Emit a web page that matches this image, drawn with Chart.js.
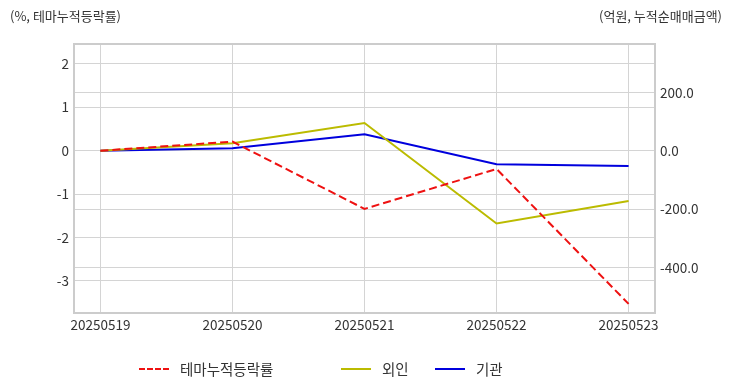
<!DOCTYPE html>
<html>
<head>
<meta charset="utf-8">
<script src="https://cdn.jsdelivr.net/npm/chart.js@4"></script>
<style>
  html, body { margin: 0; padding: 0; background: #fff; }
  #wrap { position: relative; width: 732px; height: 392px; font-family: "Noto Sans CJK KR", "Noto Sans", sans-serif; color: #333; }
  canvas { position: absolute; left: 0; top: 0; }
  .ttl { position: absolute; top: 6px; font-size: 13px; color: #333; }
  #legend { position: absolute; top: 359px; left: 0; width: 732px; height: 20px; font-size: 14.5px; }
  .item { position: absolute; top: 0; height: 20px; line-height: 20px; }
  .swatch { position: absolute; top: 9px; left: 0; width: 30px; height: 0; border-top: 2px solid; }
  .item span { position: absolute; left: 41px; white-space: nowrap; }
</style>
</head>
<body>
<div id="wrap">
  <canvas id="chart" width="732" height="392"></canvas>
  <div class="ttl" style="left:10px">(%, 테마누적등락률)</div>
  <div class="ttl" style="right:10px">(억원, 누적순매매금액)</div>
  <div id="legend"></div>
</div>
<script>
const dates = ['20250519', '20250520', '20250521', '20250522', '20250523'];
const themeRate = [0, 0.21, -1.34, -0.42, -3.53];
const foreign = [0, 26, 95, -249, -172];
const institution = [0, 9, 57, -46, -52];
const leftTicks = [2, 1, 0, -1, -2, -3];
const rightTicks = [200, 0, -200, -400];

const seriesInfo = [
    { label: '테마누적등락률', data: themeRate, color: '#ee1111', dash: [8, 4], axis: 'y', left: 139 },
    { label: '외인', data: foreign, color: '#bbbb00', dash: [], axis: 'y1', left: 341 },
    { label: '기관', data: institution, color: '#0000dd', dash: [], axis: 'y1', left: 435 }
];

const tickFont = { family: '"Noto Sans CJK KR", "Noto Sans", sans-serif', size: 13.5 };
const gridColor = '#d4d4d4';

const boxBorder = {
    id: 'boxBorder',
    afterDraw(chart) {
        const a = chart.chartArea;
        const ctx = chart.ctx;
        ctx.save();
        ctx.strokeStyle = '#cccccc';
        ctx.lineWidth = 2;
        ctx.strokeRect(a.left, a.top, a.right - a.left, a.bottom - a.top);
        ctx.restore();
    }
};

new Chart(document.getElementById('chart'), {
    type: 'line',
    data: {
        datasets: seriesInfo.map(s => ({
            label: s.label,
            data: s.data.map((v, i) => ({ x: i, y: v })),
            borderColor: s.color,
            backgroundColor: s.color,
            borderDash: s.dash,
            borderWidth: 2,
            pointRadius: 0,
            tension: 0,
            yAxisID: s.axis
        }))
    },
    options: {
        responsive: false,
        animation: false,
        layout: { padding: { left: 0, right: 0, top: 44, bottom: 49 } },
        plugins: { legend: { display: false }, tooltip: { enabled: false } },
        scales: {
            x: {
                type: 'linear',
                min: -0.2,
                max: 4.2,
                afterBuildTicks: scale => { scale.ticks = dates.map((d, i) => ({ value: i })); },
                afterFit: scale => { scale.height = 30; },
                ticks: {
                    callback: (v) => dates[v],
                    color: '#333',
                    font: tickFont,
                    padding: 4,
                    maxRotation: 0,
                    autoSkip: false
                },
                grid: { color: gridColor, drawTicks: false },
                border: { display: false }
            },
            y: {
                position: 'left',
                min: -3.74,
                max: 2.46,
                afterBuildTicks: scale => { scale.ticks = leftTicks.map(v => ({ value: v })); },
                afterFit: scale => { scale.width = 74; },
                ticks: { color: '#333', font: tickFont, padding: 5 },
                grid: { color: gridColor, drawTicks: false },
                border: { display: false }
            },
            y1: {
                position: 'right',
                min: -556,
                max: 366,
                afterBuildTicks: scale => { scale.ticks = rightTicks.map(v => ({ value: v })); },
                afterFit: scale => { scale.width = 77; },
                ticks: { color: '#333', font: tickFont, padding: 5, callback: v => v.toFixed(1) },
                grid: { color: gridColor, drawTicks: false },
                border: { display: false }
            }
        }
    },
    plugins: [boxBorder]
});

const legend = document.getElementById('legend');
seriesInfo.forEach(s => {
    const item = document.createElement('div');
    item.className = 'item';
    item.style.left = s.left + 'px';
    item.innerHTML = `<div class="swatch" style="border-top-color:${s.color};border-top-style:${s.dash.length ? 'dashed' : 'solid'}"></div><span>${s.label}</span>`;
    legend.appendChild(item);
});
</script>
</body>
</html>
